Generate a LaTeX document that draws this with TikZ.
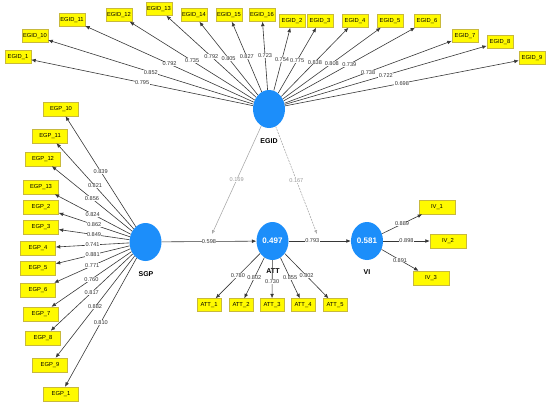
\documentclass[tikz,border=0pt]{standalone}
\usepackage{fontspec}
\setmainfont{Liberation Sans}
\usetikzlibrary{arrows.meta,shapes.geometric}
\definecolor{lvblue}{RGB}{28,142,250}
\definecolor{boxyellow}{RGB}{255,250,0}
\definecolor{boxborder}{RGB}{200,185,60}
\definecolor{linegray}{RGB}{55,55,55}
\begin{document}
\begin{tikzpicture}[x=1pt,y=-1pt,
  lv/.style={ellipse, fill=lvblue, draw=none, minimum width=32pt, minimum height=38pt, inner sep=0pt,
             text=white, font=\fontsize{8}{9}\selectfont\bfseries},
  lvname/.style={font=\fontsize{7}{8}\selectfont\bfseries, inner sep=0pt},
  ind/.style={draw=boxborder, fill=boxyellow, line width=0.4pt, inner sep=0.5pt,
              minimum height=13pt, text height=4.3pt, text depth=1.2pt, font=\fontsize{5.8}{6.5}\selectfont},
  egidbox/.style={ind, minimum width=26pt},
  egpbox/.style={ind, minimum width=35pt, minimum height=14pt},
  attbox/.style={ind, minimum width=24pt},
  ivbox/.style={ind, minimum width=36pt, minimum height=14pt},
  load/.style={draw=linegray, line width=0.6pt, -{Latex[length=4.5pt,width=3.8pt]}},
  modl/.style={draw=gray!70, line width=0.55pt, -{Latex[length=3.8pt,width=3.2pt,open]}},
  val/.style={fill=white, inner sep=0.4pt, font=\fontsize{5.6}{6.5}\selectfont, text=black!80},
  mval/.style={val, text=gray!80}
]
\useasboundingbox (0,0) rectangle (550,405);

% latent variables
\node[lv] (egid) at (269,109) {};
\node[lv] (sgp) at (145.5,242) {};
\node[lv] (att) at (272.5,241) {0.497};
\node[lv] (vi) at (367,241) {0.581};
\node[lvname] (egidn) at (269,141) {EGID};
\node[lvname] (sgpn) at (146,274) {SGP};
\node[lvname] (attn) at (273,271) {ATT};
\node[lvname] (vin) at (367,272) {VI};

% EGID indicators
\node[egidbox] (e1) at (18,57) {EGID\_1};
\node[egidbox] (e10) at (35,36) {EGID\_10};
\node[egidbox] (e11) at (72,20) {EGID\_11};
\node[egidbox] (e12) at (119,15) {EGID\_12};
\node[egidbox] (e13) at (159,9) {EGID\_13};
\node[egidbox] (e14) at (194,15) {EGID\_14};
\node[egidbox] (e15) at (229,15) {EGID\_15};
\node[egidbox] (e16) at (262,15) {EGID\_16};
\node[egidbox] (e2) at (292,21) {EGID\_2};
\node[egidbox] (e3) at (320,21) {EGID\_3};
\node[egidbox] (e4) at (355,21) {EGID\_4};
\node[egidbox] (e5) at (390,21) {EGID\_5};
\node[egidbox] (e6) at (427,21) {EGID\_6};
\node[egidbox] (e7) at (465,36) {EGID\_7};
\node[egidbox] (e8) at (500,42) {EGID\_8};
\node[egidbox] (e9) at (532,58) {EGID\_9};

\draw[load] (egid) -- node[val]{0.795} (e1);
\draw[load] (egid) -- node[val]{0.852} (e10);
\draw[load] (egid) -- node[val]{0.792} (e11);
\draw[load] (egid) -- node[val]{0.735} (e12);
\draw[load] (egid) -- node[val]{0.792} (e13);
\draw[load] (egid) -- node[val]{0.805} (e14);
\draw[load] (egid) -- node[val]{0.827} (e15);
\draw[load] (egid) -- node[val]{0.723} (e16);
\draw[load] (egid) -- node[val]{0.754} (e2);
\draw[load] (egid) -- node[val]{0.775} (e3);
\draw[load] (egid) -- node[val]{0.838} (e4);
\draw[load] (egid) -- node[val]{0.808} (e5);
\draw[load] (egid) -- node[val]{0.739} (e6);
\draw[load] (egid) -- node[val]{0.738} (e7);
\draw[load] (egid) -- node[val]{0.722} (e8);
\draw[load] (egid) -- node[val]{0.698} (e9);

% EGP indicators
\node[egpbox] (g10) at (61,109) {EGP\_10};
\node[egpbox] (g11) at (50,136) {EGP\_11};
\node[egpbox] (g12) at (43,159) {EGP\_12};
\node[egpbox] (g13) at (41,187) {EGP\_13};
\node[egpbox] (g2) at (41,207) {EGP\_2};
\node[egpbox] (g3) at (41,227) {EGP\_3};
\node[egpbox] (g4) at (38,248) {EGP\_4};
\node[egpbox] (g5) at (38,268) {EGP\_5};
\node[egpbox] (g6) at (38,290) {EGP\_6};
\node[egpbox] (g7) at (41,314) {EGP\_7};
\node[egpbox] (g8) at (43,338) {EGP\_8};
\node[egpbox] (g9) at (50,365) {EGP\_9};
\node[egpbox] (g1) at (61,394) {EGP\_1};

\draw[load] (sgp) -- node[val]{0.839} (g10);
\draw[load] (sgp) -- node[val]{0.821} (g11);
\draw[load] (sgp) -- node[val]{0.856} (g12);
\draw[load] (sgp) -- node[val]{0.824} (g13);
\draw[load] (sgp) -- node[val]{0.862} (g2);
\draw[load] (sgp) -- node[val]{0.849} (g3);
\draw[load] (sgp) -- node[val]{0.741} (g4);
\draw[load] (sgp) -- node[val]{0.881} (g5);
\draw[load] (sgp) -- node[val]{0.771} (g6);
\draw[load] (sgp) -- node[val]{0.760} (g7);
\draw[load] (sgp) -- node[val]{0.817} (g8);
\draw[load] (sgp) -- node[val]{0.882} (g9);
\draw[load] (sgp) -- node[val]{0.810} (g1);

% ATT indicators
\node[attbox] (a1) at (209,305) {ATT\_1};
\node[attbox] (a2) at (241,305) {ATT\_2};
\node[attbox] (a3) at (272,305) {ATT\_3};
\node[attbox] (a4) at (303,305) {ATT\_4};
\node[attbox] (a5) at (335,305) {ATT\_5};

\draw[load] (att) -- node[val]{0.780} (a1);
\draw[load] (att) -- node[val]{0.802} (a2);
\draw[load] (att) -- node[val, pos=0.55]{0.730} (a3);
\draw[load] (att) -- node[val]{0.855} (a4);
\draw[load] (att) -- node[val]{0.802} (a5);

% VI indicators
\node[ivbox] (i1) at (437,207) {IV\_1};
\node[ivbox] (i2) at (448,241) {IV\_2};
\node[ivbox] (i3) at (431,278) {IV\_3};

\draw[load] (vi) -- node[val]{0.889} (i1);
\draw[load] (vi) -- node[val]{0.898} (i2);
\draw[load] (vi) -- node[val]{0.891} (i3);

% structural paths
\draw[load] (sgp) -- node[val]{0.598} (att);
\draw[load] (att) -- node[val, pos=0.38]{0.793} (vi);

% moderating effects
\coordinate (m1) at (212,234);
\coordinate (m2) at (317,234);
\draw[modl] (egid) -- node[mval]{0.169} (m1);
\draw[modl, dashed, dash pattern=on 2pt off 1pt] (egid) -- node[mval]{0.167} (m2);
\end{tikzpicture}
\end{document}
